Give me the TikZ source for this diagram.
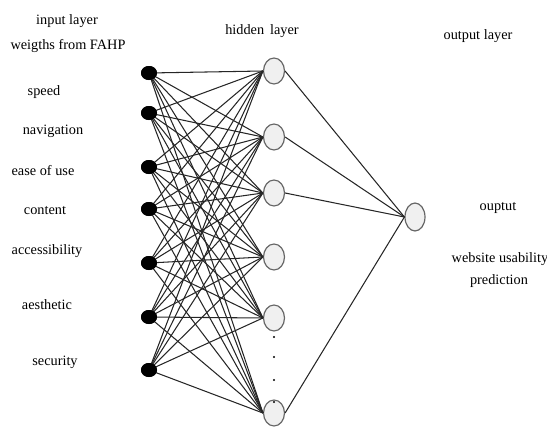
\documentclass[tikz,border=0pt]{standalone}
\usepackage{fontspec}
\setmainfont{Liberation Serif}
\usetikzlibrary{shapes.geometric}
\begin{document}
\begin{tikzpicture}[x=1pt,y=-1pt,
  inp/.style={ellipse,fill=black,minimum width=16pt,minimum height=14pt,inner sep=0pt},
  hid/.style={ellipse,draw=black!60,fill=black!6,line width=1.2pt,minimum width=21pt,minimum height=26pt,inner sep=0pt},
  link/.style={draw=black!85,line width=1.05pt},
  lbl/.style={font=\fontsize{14.3}{16}\selectfont,align=center,inner sep=0pt},
  dotn/.style={circle,fill=black,minimum size=2.4pt,inner sep=0pt}]
\useasboundingbox (0,0) rectangle (547,431);
% input nodes
\foreach \i/\y in {1/73,2/113,3/167,4/209,5/263,6/317,7/370}
  \node[inp] (i\i) at (149,\y) {};
% hidden nodes
\foreach \j/\y in {1/71,2/137,3/193,4/257,5/318,6/413}
  \node[hid] (h\j) at (274,\y) {};
% output
\node[hid,minimum width=20pt,minimum height=28pt] (o) at (415,217) {};
% dots
\foreach \k/\y in {1/337,2/357,3/380,4/402}
  \node[dotn] (d\k) at (274,\y) {};
% connections
\foreach \i in {1,...,7}
  \foreach \j in {1,...,6}
    \draw[link] (i\i.center) -- (h\j.west);
\foreach \j in {1,2,3,6}
  \draw[link] (h\j.east) -- (o.west);
% redraw input nodes on top
\foreach \i in {1,...,7}
  \node[inp] at (i\i) {};
% labels
\node[lbl] (t1) at (67,21) {input layer};
\node[lbl] (t2) at (68,46) {weigths from FAHP};
\node[lbl] (t3) at (262,31) {hidden\, layer};
\node[lbl] (t4) at (478,36) {output layer};
\node[lbl] (l1) at (44,92) {speed};
\node[lbl] (l2) at (53,131) {navigation};
\node[lbl] (l3) at (43,171) {ease of use};
\node[lbl] (l4) at (45,211) {content};
\node[lbl] (l5) at (47,251) {accessibility};
\node[lbl] (l6) at (47,305) {aesthetic};
\node[lbl] (l7) at (55,362) {security};
\node[lbl] (l8) at (498,208) {ouptut};
\node[lbl] (l9) at (500,259) {website usability};
\node[lbl] (l10) at (499,281) {prediction};
\end{tikzpicture}
\end{document}
